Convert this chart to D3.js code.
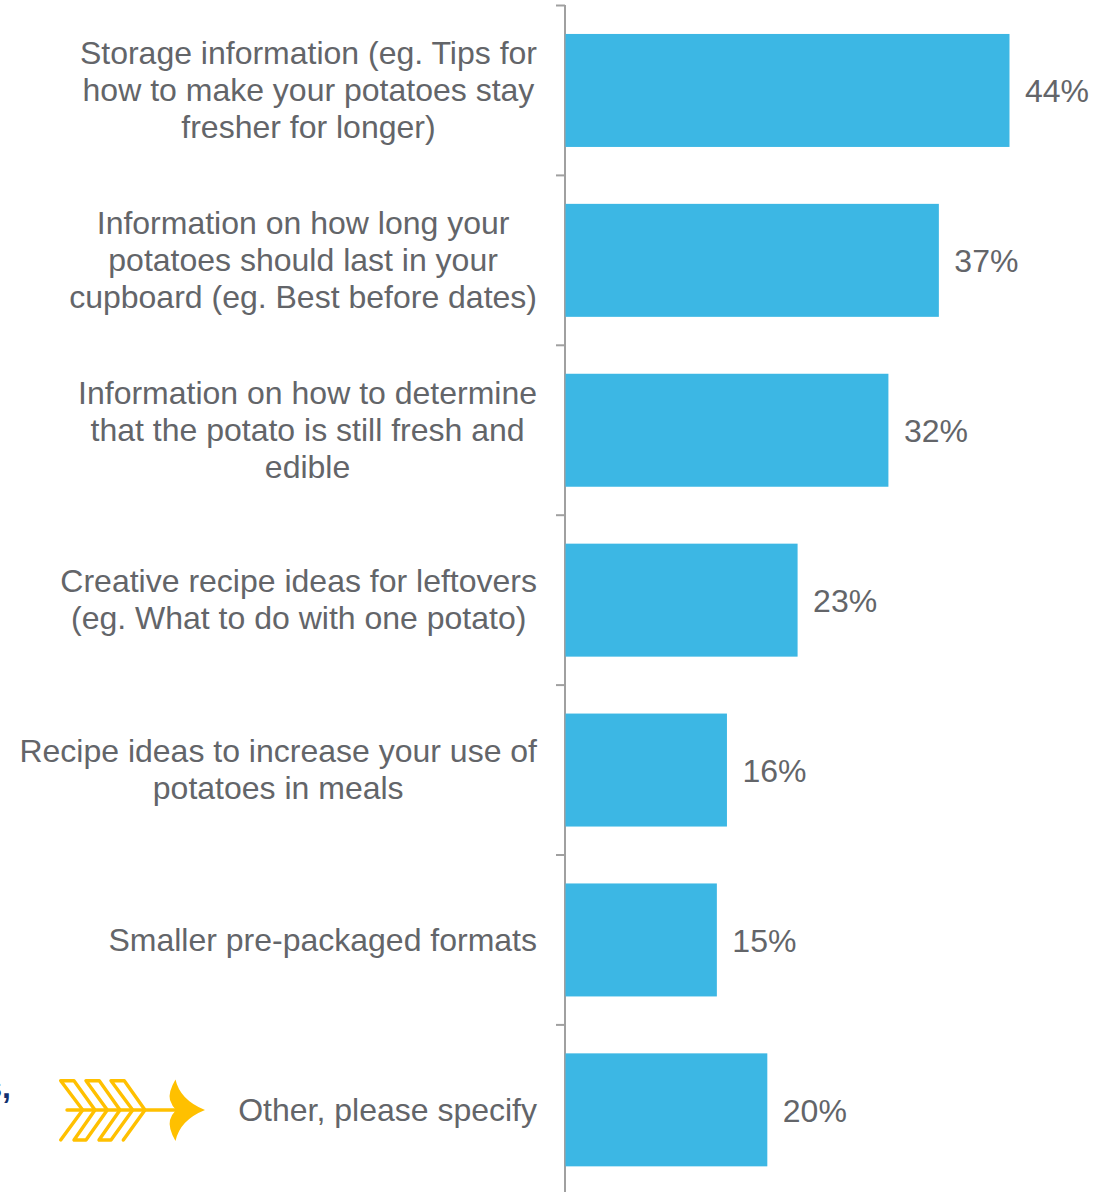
<!DOCTYPE html>
<html>
<head>
<meta charset="utf-8">
<style>
html, body { margin: 0; padding: 0; background: #fff; }
svg { display: block; }
text { font-family: "Liberation Sans", Arial, sans-serif; }
</style>
<script src="https://cdnjs.cloudflare.com/ajax/libs/d3/7.9.0/d3.min.js"></script>
</head>
<body>
<svg id="chart" width="1108" height="1192"></svg>
<script>
const categories = [
  ["Storage information (eg. Tips for", "how to make your potatoes stay", "fresher for longer)"],
  ["Information on how long your", "potatoes should last in your", "cupboard (eg. Best before dates)"],
  ["Information on how to determine", "that the potato is still fresh and", "edible"],
  ["Creative recipe ideas for leftovers", "(eg. What to do with one potato)"],
  ["Recipe ideas to increase your use of", "potatoes in meals"],
  ["Smaller pre-packaged formats"],
  ["Other, please specify"]
];
const values = [44, 37, 32, 23, 16, 15, 20];

const barColor = "#3CB7E4";
const textColor = "#636569";
const axisColor = "#A0A0A0";
const gold = "#FFC000";

const svg = d3.select("#chart");
const x = d3.scaleLinear().domain([0, 44]).range([565.5, 1009.5]);
const y = d3.scaleBand().domain(d3.range(categories.length)).range([5.5, 1194.8]).paddingInner(0.335).paddingOuter(0.1675);

// Category axis: a vertical rule with a tick at each band boundary
const step = y.step();
const boundaries = d3.range(categories.length + 1).map(i => 5.5 + i * step);
svg.append("line").attr("x1", 565).attr("x2", 565).attr("y1", 5).attr("y2", 1192)
  .attr("stroke", axisColor).attr("stroke-width", 2);
svg.selectAll("line.tick").data(boundaries).join("line").attr("class", "tick")
  .attr("x1", 556).attr("x2", 565).attr("y1", d => d).attr("y2", d => d)
  .attr("stroke", axisColor).attr("stroke-width", 2);

// Bars
svg.selectAll("rect.bar").data(values).join("rect").attr("class", "bar")
  .attr("x", x(0)).attr("y", (d, i) => y(i))
  .attr("width", d => x(d) - x(0)).attr("height", y.bandwidth())
  .attr("fill", barColor);

// Value labels
svg.selectAll("text.value").data(values).join("text").attr("class", "value")
  .attr("x", d => x(d) + 15.5).attr("y", (d, i) => y(i) + y.bandwidth() / 2 + 12)
  .attr("font-size", 32).attr("fill", textColor)
  .text(d => d + "%");

// Category labels: each block sits flush right, its lines centred on the block
const fontSize = 32, lineHeight = 37, rightEdge = 537;
categories.forEach((lines, i) => {
  const g = svg.append("g");
  const t = g.selectAll("text").data(lines).join("text")
    .attr("font-size", fontSize).attr("fill", textColor).attr("text-anchor", "middle")
    .text(d => d);
  const w = d3.max(t.nodes(), n => n.getComputedTextLength());
  const cy = y(i) + y.bandwidth() / 2;
  const baseline = lines.length === 2 ? 10 : 11;
  t.attr("x", rightEdge - w / 2)
   .attr("y", (d, k) => cy + (k - (lines.length - 1) / 2) * lineHeight + baseline);
});

// Fragment of a neighbouring caption at the left edge
svg.append("text").attr("x", 11).attr("y", 1098).attr("text-anchor", "end")
  .attr("font-size", 32).attr("font-weight", "bold").attr("fill", "#12306F").text("s,");

// Gold chevron arrow beside the last category: one serpentine stroke, a shaft and a barbed head
const arrow = svg.append("g").attr("transform", "translate(0,1040)")
  .attr("fill", "none").attr("stroke", gold).attr("stroke-width", 3.4)
  .attr("stroke-linecap", "round").attr("stroke-linejoin", "round");
arrow.append("path").attr("d",
  "M60.7,100 L82.7,70 L60.7,40.7 H74 L95,70 L74,100 H86 L107.3,70 L86,40.7 H99.3 L120,70 L99,100 H111 L132.7,70 L111,40.7 H124.3 L145,70 L123.3,100");
arrow.append("path").attr("d", "M67,70 H176");
arrow.append("path").attr("stroke", "none").attr("fill", gold)
  .attr("d", "M175.5,39.5 Q180,60 205,70 Q180,80 175.5,101 Q168,88 170,80 Q172,74 176,70 Q172,66 170,60 Q168,52 175.5,39.5 Z");
</script>
</body>
</html>
